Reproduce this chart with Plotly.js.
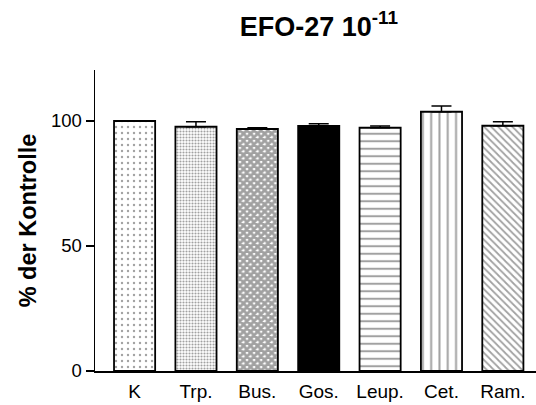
<!DOCTYPE html>
<html><head><meta charset="utf-8">
<script src="https://cdn.plot.ly/plotly-3.0.1.min.js"></script>
<style>html,body{margin:0;padding:0;background:#fff}</style>
</head><body>
<div id="chart" style="width:536px;height:405px"></div>
<script>
const categories = ['K', 'Trp.', 'Bus.', 'Gos.', 'Leup.', 'Cet.', 'Ram.'];
const values = [100, 97.7, 96.8, 98.0, 97.3, 103.7, 98.1];
const errors = [0, 2.0, 0.5, 0.9, 0.7, 2.3, 1.6];
const yTicks = [0, 50, 100];

const trace = {
  type: 'bar',
  x: categories,
  y: values,
  error_y: {type: 'data', array: errors, arrayminus: errors.map(() => 0), symmetric: false,
            color: '#000', thickness: 1.5, width: 10},
  marker: {
    color: ['white','white','white','black','white','white','white'],
    line: {color: '#000', width: 1.8},
    pattern: {
      shape: ['.', '.', 'x', '', '-', '|', '\\'],
      size: [6, 3, 5, 8, 7.5, 8.3, 5],
      solidity: [0.12, 0.4, 0.8, 0.3, 0.27, 0.24, 0.35],
      fgcolor: 'black',
      bgcolor: ['white','white','white','black','white','white','white'],
      fillmode: 'overlay'
    }
  },
  hoverinfo: 'none'
};

const layout = {
  width: 536, height: 405,
  margin: {l: 95, r: 0, t: 70, b: 34},
  paper_bgcolor: 'white', plot_bgcolor: 'white',
  bargap: 0.33,
  showlegend: false,
  font: {family: 'Liberation Sans, Arial, sans-serif', color: '#000'},
  title: {text: '<b>EFO-27 10<sup>-11</sup></b>', font: {size: 27, family: 'Liberation Sans, Arial, sans-serif'},
          x: 0.595, xref: 'container', xanchor: 'center', y: 0.935, yref: 'container', yanchor: 'middle'},
  xaxis: {
    range: [-0.645, 6.54], showline: true, linecolor: '#000', linewidth: 1.5,
    ticks: '', tickfont: {size: 19}, ticklabelstandoff: 3, showgrid: false, zeroline: false, fixedrange: true
  },
  yaxis: {
    range: [0, 120.4], tickvals: yTicks, ticktext: yTicks.map(String),
    showline: true, linecolor: '#000', linewidth: 1.5,
    ticks: 'outside', ticklen: 8, tickwidth: 1.5, tickcolor: '#000',
    tickfont: {size: 18.5}, showgrid: false, zeroline: false,
    title: {text: '<b>% der Kontrolle</b>', font: {size: 23.5}, standoff: 7}
  }
};

Plotly.newPlot('chart', [trace], layout, {staticPlot: true, displayModeBar: false});
</script>
</body></html>
